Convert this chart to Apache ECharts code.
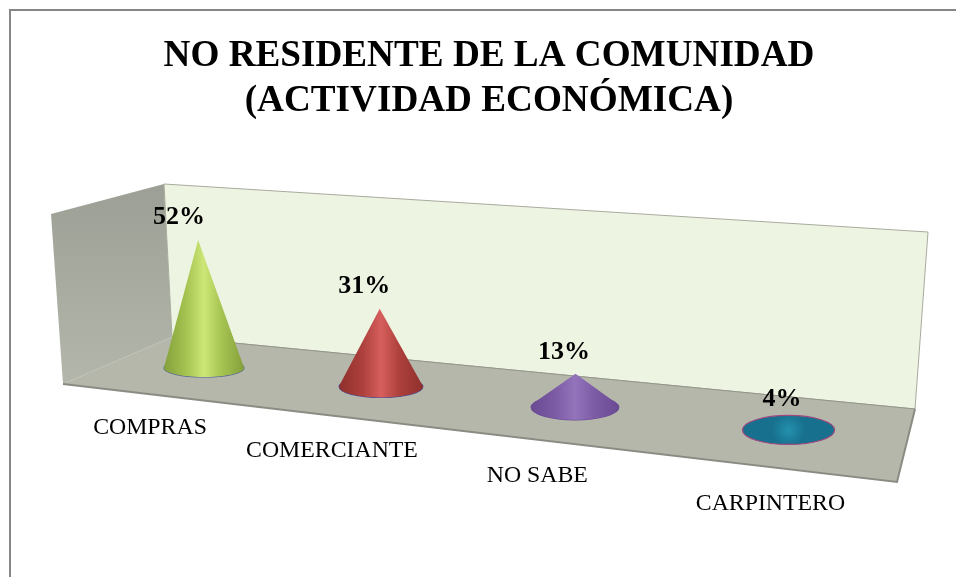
<!DOCTYPE html>
<html>
<head>
<meta charset="utf-8">
<style>html,body{margin:0;padding:0;background:#fff}#c{width:956px;height:577px}</style>
<script src="https://cdn.jsdelivr.net/npm/echarts@6/dist/echarts.min.js"></script>
</head>
<body>
<div id="c"></div>
<script>
const titleText = 'NO RESIDENTE DE LA COMUNIDAD\n(ACTIVIDAD ECONÓMICA)';
const categories = ['COMPRAS', 'COMERCIANTE', 'NO SABE', 'CARPINTERO'];
const percentages = [52, 31, 13, 4];
const edgeColors = ['#84a03a', '#8f302d', '#6a4a92', '#17708e'];
const sideColors = ['#a6c452', '#ad403c', '#7d5ca6', '#1c84a3'];
const midColors = ['#cde776', '#d65f5d', '#9374bb', '#2391ae'];
const rimColors = ['#4f5f9c', '#4a4f9c', '#6b4a96', '#a0487f'];

const FONT = '"Liberation Serif","Times New Roman",serif';
const K = 0.0438; // perspective strength along the floor

function renderCone(params, api) {
  const i = api.value(0), v = api.value(1);
  const origin = api.coord([0, 0]);
  const band = api.size([1, 0])[0];
  const u = (api.coord([i, 0])[0] - origin[0]) / band;
  const persp = 1 / (1 - K * u);
  const d = band * (1 - K) * u * persp;
  const cx = origin[0] + d;
  const cy = origin[1] + d * 0.106;
  const rx = band * 0.226 * persp;
  const ry = 9 + d * 0.0094;
  const h = (origin[1] - api.coord([i, v])[1]) * Math.sqrt(persp);
  const ax = cx + (-0.046 + d * 0.000166) * h;
  const ay = cy - h;

  // silhouette: tangents from the apex to the base ellipse, then the near arc
  const p = (ax - cx) / rx, q = (ay - cy) / ry;
  const D = Math.sqrt(p * p + q * q);
  const children = [];
  const grad = {
    type: 'linear', x: 0, y: 0, x2: 1, y2: 0,
    colorStops: [
      { offset: 0, color: edgeColors[i] },
      { offset: 0.28, color: sideColors[i] },
      { offset: 0.5, color: midColors[i] },
      { offset: 0.72, color: sideColors[i] },
      { offset: 1, color: edgeColors[i] }
    ]
  };
  if (D > 1) {
    children.push({ type: 'ellipse', shape: { cx: cx, cy: cy, rx: rx, ry: ry },
      style: { fill: sideColors[i], stroke: rimColors[i], lineWidth: 1.2 } });
    const th = Math.atan2(q, p), al = Math.acos(1 / D);
    const a1 = th + al, a2 = th - al + Math.PI * 2;
    const pts = [[ax, ay]];
    for (let t = 0; t <= 64; t++) {
      const a = a1 + (a2 - a1) * t / 64;
      pts.push([cx + rx * Math.cos(a), cy + ry * Math.sin(a)]);
    }
    children.push({ type: 'polygon', shape: { points: pts }, style: { fill: grad } });
  } else {
    children.push({ type: 'ellipse', shape: { cx: cx, cy: cy, rx: rx, ry: ry },
      style: {
        fill: { type: 'radial', x: 0.5, y: 0.5, r: 0.55, colorStops: [
          { offset: 0, color: midColors[i] }, { offset: 1, color: edgeColors[i] } ] },
        stroke: rimColors[i], lineWidth: 1.2 } });
  }
  const labelOff = -54 + 0.0135 * d + 0.000082 * d * d;
  children.push(
    { type: 'text', z2: 10, style: {
        text: v + '%', x: ax - 19 + d * 0.0205, y: ay - 23 + d * 0.005,
        align: 'center', verticalAlign: 'middle',
        font: 'bold 26px ' + FONT, fill: '#000' } },
    { type: 'text', z2: 10, style: {
        text: categories[i], x: cx + labelOff, y: 427.5 + d * 0.1297,
        align: 'center', verticalAlign: 'middle',
        font: '23.8px ' + FONT, fill: '#000' } }
  );
  return { type: 'group', children: children };
}

const chart = echarts.init(document.getElementById('c'), null, { renderer: 'canvas' });
chart.setOption({
  animation: false,
  backgroundColor: '#fff',
  title: {
    text: titleText, left: 484, top: 29, textAlign: 'center',
    textStyle: { fontFamily: FONT, fontWeight: 'bold', fontSize: 37.2, lineHeight: 45, color: '#000' }
  },
  grid: { left: 115.5, width: 708, top: 122, height: 246 },
  xAxis: { type: 'category', data: categories, show: false },
  yAxis: { type: 'value', min: 0, max: 100, show: false },
  graphic: [
    { type: 'polyline', z: 0, shape: { points: [[10, 577], [10, 10], [956, 10]] },
      style: { fill: 'none', stroke: '#868686', lineWidth: 2 } },
    { type: 'polygon', z: 1, shape: { points: [[51, 214], [164, 184], [172, 337], [63, 384]] },
      style: { fill: { type: 'linear', x: 0, y: 0, x2: 0, y2: 1, colorStops: [
        { offset: 0, color: '#9b9f95' }, { offset: 1, color: '#b3b7ab' } ] } } },
    { type: 'polygon', z: 1, shape: { points: [[164, 184], [928, 232], [915, 409], [172, 337]] },
      style: { fill: '#eef4e2', stroke: '#a9ab9f', lineWidth: 1 } },
    { type: 'polygon', z: 1, shape: { points: [[172, 337], [915, 409], [897, 482], [63, 384]] },
      style: { fill: '#b4b7a9' } },
    { type: 'polyline', z: 1, shape: { points: [[63, 384], [897, 482], [915, 409]] },
      style: { fill: 'none', stroke: '#8a8c84', lineWidth: 2 } },
    { type: 'polyline', z: 1, shape: { points: [[172, 337], [915, 409]] },
      style: { fill: 'none', stroke: '#94968c', lineWidth: 1 } }
  ],
  series: [{
    type: 'custom',
    coordinateSystem: 'cartesian2d',
    clip: false,
    z: 5,
    renderItem: renderCone,
    encode: { x: 0, y: 1 },
    data: categories.map((c, i) => [c, percentages[i]])
  }]
});
</script>
</body>
</html>
